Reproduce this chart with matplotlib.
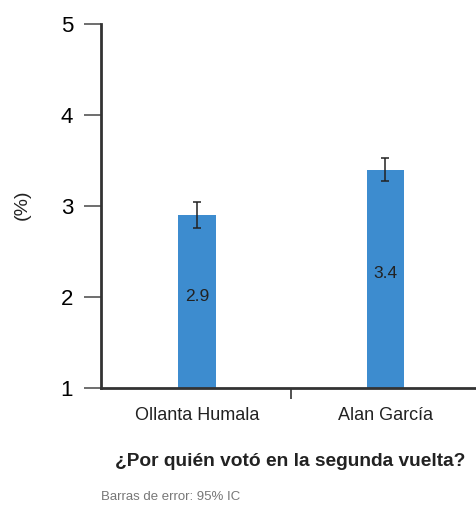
import matplotlib
matplotlib.use("Agg")
import matplotlib.pyplot as plt

plt.rcParams['font.family'] = ['Liberation Sans Narrow', 'Liberation Sans', 'DejaVu Sans']

# datos
candidatos = ["Ollanta Humala", "Alan García"]
valores = [2.9, 3.4]
errores = [0.14, 0.13]
yticks = [1, 2, 3, 4, 5]

fig = plt.figure(figsize=(4.77, 5.07), dpi=100)
ax = fig.add_axes([0.2117, 0.2347, 0.79, 0.718])

x = list(range(len(candidatos)))
ax.bar(x, valores, width=0.2, color='#3d8ccf', zorder=2)
ax.errorbar(x, valores, yerr=errores, fmt='none', ecolor='#222222',
            elinewidth=1.1, capsize=2.8, capthick=1.1, zorder=3)

# etiquetas de valores dentro de las barras
for xi, v in zip(x, valores):
    ax.text(xi, (1 + v) / 2 + 0.06, f"{v:.1f}", ha='center', va='center',
            fontsize=12.5, color='#222222')

ax.set_xlim(-0.51, 1.49)
ax.set_ylim(1, 5)
ax.set_yticks(yticks)
ax.set_yticklabels([str(t) for t in yticks], fontsize=16)
ax.set_xticks([0.5])
ax.set_xticklabels([""])
ax.tick_params(axis='y', length=12, width=1.2, color='#555555', pad=8)
ax.tick_params(axis='x', length=8, width=1.2, color='#333333')

for xi, name in zip(x, candidatos):
    ax.text(xi, -0.075, name, transform=ax.get_xaxis_transform(),
            ha='center', va='center', fontsize=13, color='#222222')

for s in ['top', 'right']:
    ax.spines[s].set_visible(False)
for s in ['left', 'bottom']:
    ax.spines[s].set_linewidth(2)
    ax.spines[s].set_color('#333333')

fig.text(22 / 477, 1 - 205 / 507, "(%)", rotation=90, ha='center', va='center',
         fontsize=14, color='#222222')
fig.text(290 / 477, 1 - 462 / 507, "¿Por quién votó en la segunda vuelta?",
         ha='center', va='center', fontsize=13.8, fontweight='bold', color='#222222')
fig.text(101 / 477, 1 - 497 / 507, "Barras de error: 95% IC",
         ha='left', va='center', fontsize=9.5, color='#777777')

fig.savefig("out.png", dpi=100)
